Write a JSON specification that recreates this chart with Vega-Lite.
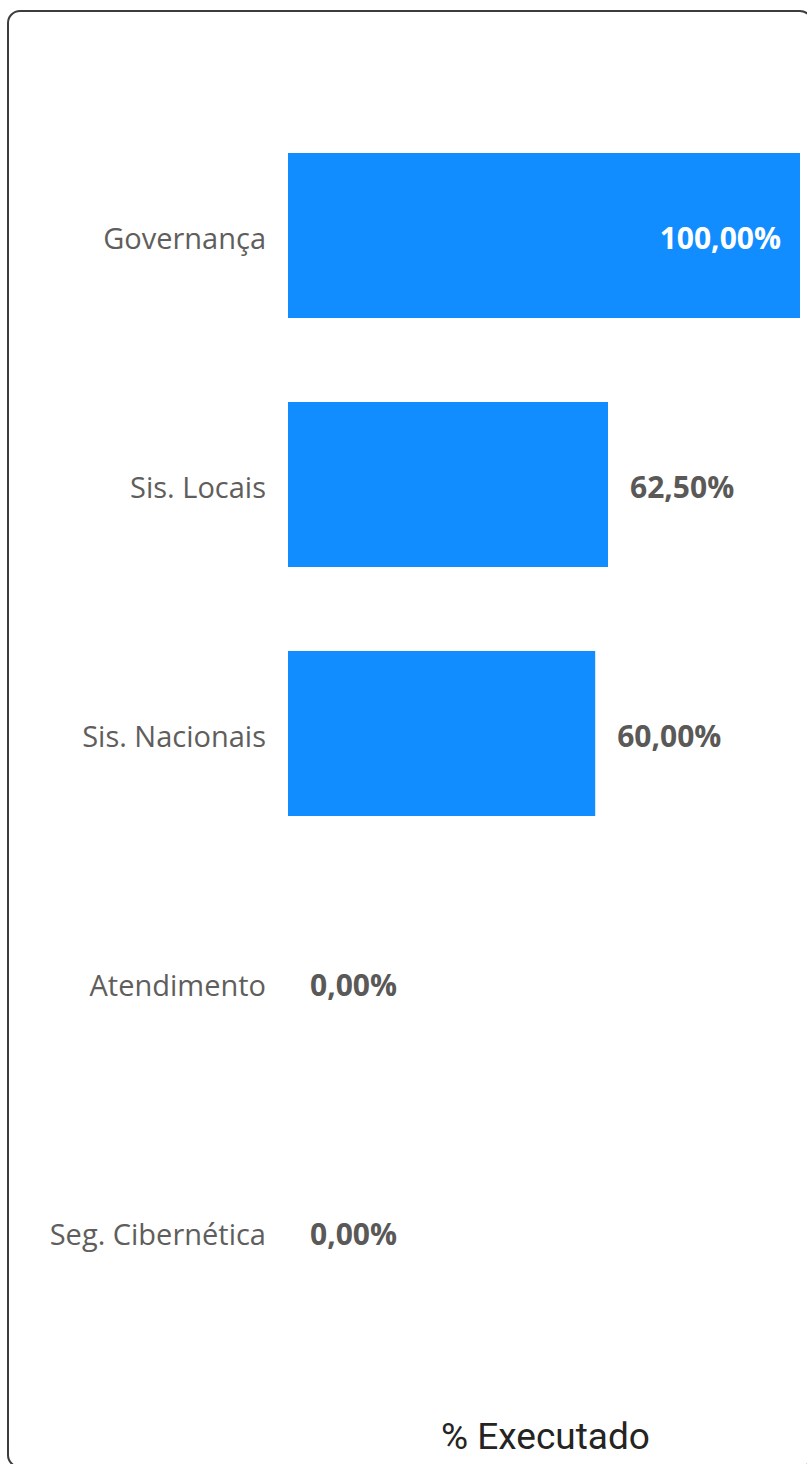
{
  "$schema": "https://vega.github.io/schema/vega-lite/v6.json",
  "autosize": "none",
  "padding": {"left": 8, "top": 11, "right": 0, "bottom": 0},
  "width": 804,
  "height": 1456,
  "background": "white",
  "config": {
    "locale": {"number": {"decimal": ",", "thousands": ".", "grouping": [3], "currency": ["R$", ""]}},
    "view": {"stroke": "#3c3c3c", "strokeWidth": 2, "cornerRadius": 12, "fill": "white"}
  },
  "data": {
    "values": [
      {"cat": "Governança", "v": 1.0},
      {"cat": "Sis. Locais", "v": 0.625},
      {"cat": "Sis. Nacionais", "v": 0.6},
      {"cat": "Atendimento", "v": 0.0},
      {"cat": "Seg. Cibernética", "v": 0.0}
    ]
  },
  "encoding": {
    "y": {
      "field": "cat", "type": "nominal", "sort": null,
      "scale": {"paddingInner": 0.3373, "paddingOuter": 0.5924, "align": 0.481},
      "axis": null
    }
  },
  "layer": [
    {
      "mark": {"type": "bar", "color": "#118DFF"},
      "encoding": {
        "x": {
          "field": "v", "type": "quantitative",
          "scale": {"domain": [-0.546875, 1.0234375], "nice": false, "zero": false},
          "axis": {
            "title": "% Executado", "labels": false, "ticks": false, "domain": false, "grid": false,
            "titleX": 537, "titleY": -30, "titleBaseline": "middle", "titleAlign": "center",
            "titleFont": "Roboto", "titleFontSize": 37, "titleFontWeight": "normal", "titleColor": "#252423"
          }
        }
      }
    },
    {
      "transform": [{"filter": "datum.v < 0.9"}],
      "mark": {"type": "text", "align": "left", "baseline": "middle", "dx": 22, "dy": 5, "font": "Open Sans", "fontSize": 30, "fontWeight": "bold", "color": "#5a5957"},
      "encoding": {
        "x": {"field": "v", "type": "quantitative"},
        "text": {"field": "v", "type": "quantitative", "format": ".2%"}
      }
    },
    {
      "transform": [{"filter": "datum.v >= 0.9"}],
      "mark": {"type": "text", "align": "right", "baseline": "middle", "dx": -19, "dy": 5, "font": "Open Sans", "fontSize": 30, "fontWeight": "bold", "color": "white"},
      "encoding": {
        "x": {"field": "v", "type": "quantitative"},
        "text": {"field": "v", "type": "quantitative", "format": ".2%"}
      }
    },
    {
      "mark": {"type": "text", "align": "right", "baseline": "middle", "dx": -22, "dy": 5, "font": "Open Sans", "fontSize": 29, "color": "#605E5C"},
      "encoding": {
        "x": {"datum": 0},
        "text": {"field": "cat", "type": "nominal"}
      }
    }
  ]
}
